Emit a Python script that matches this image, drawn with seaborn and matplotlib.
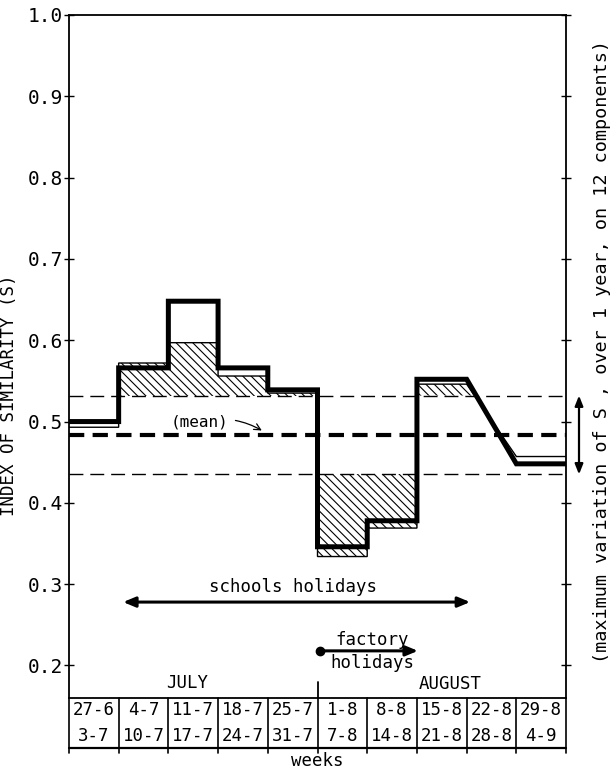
import numpy as np
import pandas as pd
import matplotlib
matplotlib.use("Agg")
import matplotlib.pyplot as plt
import matplotlib.transforms as mtransforms
import seaborn as sns

# ---------------- data ----------------
weeks_start = ["27-6", "4-7", "11-7", "18-7", "25-7", "1-8", "8-8", "15-8", "22-8", "29-8"]
weeks_end = ["3-7", "10-7", "17-7", "24-7", "31-7", "7-8", "14-8", "21-8", "28-8", "4-9"]
s_thick = [0.500, 0.566, 0.648, 0.566, 0.539, 0.346, 0.378, 0.552, None, 0.448]
s_thin = [0.493, 0.572, 0.597, 0.556, 0.535, 0.334, 0.369, 0.546, None, 0.457]
s_mean = 0.484
band_hi = 0.532
band_lo = 0.435
months = ["JULY", "AUGUST"]
school_hol = (1.09, 8.07)
factory_hol = (5.05, 7.02)
yticks = [0.2, 0.3, 0.4, 0.5, 0.6, 0.7, 0.8, 0.9, 1.0]

# ---------------- style ----------------
sns.set_theme(style="ticks")
plt.rcParams["font.family"] = ["DejaVu Sans Mono", "DejaVu Sans"]
plt.rcParams["hatch.linewidth"] = 0.8
plt.rcParams["lines.scale_dashes"] = False
plt.rcParams["axes.edgecolor"] = "black"
plt.rcParams["axes.labelcolor"] = "black"
plt.rcParams["text.color"] = "black"
plt.rcParams["xtick.color"] = "black"
plt.rcParams["ytick.color"] = "black"
FS = 12.5


def step_path(vals):
    xs, ys = [], []
    for i, v in enumerate(vals):
        if v is None:
            continue
        xs += [i, i + 1]
        ys += [v, v]
    return np.array(xs, dtype=float), np.array(ys, dtype=float)


x_thick, y_thick = step_path(s_thick)
x_thin, y_thin = step_path(s_thin)
df_thick = pd.DataFrame({"week": x_thick, "S": y_thick})
df_thin = pd.DataFrame({"week": x_thin, "S": y_thin})

fig = plt.figure(figsize=(6.1, 7.73), dpi=100)
ax = fig.add_axes([0.113, 0.097, 0.815, 0.8836])

# hatched deviations outside the band
HATCH = "\\\\\\\\"
ax.fill_between(x_thin, y_thin, band_hi, where=y_thin > band_hi, interpolate=True,
                facecolor="none", edgecolor="black", hatch=HATCH, linewidth=0, zorder=1)
ax.fill_between(x_thin, y_thin, band_lo, where=y_thin < band_lo, interpolate=True,
                facecolor="none", edgecolor="black", hatch=HATCH, linewidth=0, zorder=1)

# band and mean
ax.axhline(band_hi, color="black", lw=1.0, dashes=(10, 5), zorder=1.5)
ax.axhline(band_lo, color="black", lw=1.0, dashes=(10, 5), zorder=1.5)
ax.axhline(s_mean, color="black", lw=3.0, dashes=(11, 6), zorder=1.5)

# lines
sns.lineplot(data=df_thin, x="week", y="S", sort=False, estimator=None,
             color="black", lw=1.0, ax=ax, zorder=2)
sns.lineplot(data=df_thick, x="week", y="S", sort=False, estimator=None,
             color="black", lw=3.6, ax=ax, zorder=3)
for ln in ax.lines[-2:]:
    ln.set_solid_joinstyle("miter")
    ln.set_solid_capstyle("butt")

ax.set_xlim(0, 10)
ax.set_ylim(0.16, 1.0)
ax.set_xticks([])
ax.set_yticks(yticks)
ax.set_yticklabels([f"{t:.1f}" for t in yticks], fontsize=14)
ax.tick_params(axis="y", direction="inout", length=7, width=1.0, right=True,
               labelright=False, pad=1)
for sp in ax.spines.values():
    sp.set_visible(True)
    sp.set_linewidth(1.3)
    sp.set_color("black")

ax.set_ylabel("INDEX OF SIMILARITY (S)", fontsize=FS, color="black")
ax.yaxis.set_label_coords(-0.103, 0.444)
ax.set_xlabel("weeks", fontsize=FS, color="black")
ax.xaxis.label.set_va("center")
ax.xaxis.set_label_coords(0.5, -0.0915)

# (mean) annotation
ax.annotate("(mean)", xy=(3.88, 0.489), xytext=(2.62, 0.500), fontsize=11.5,
            ha="center", va="center",
            arrowprops=dict(arrowstyle="->", lw=0.9, color="black",
                            connectionstyle="arc3,rad=-0.2", shrinkA=3, shrinkB=0))

# schools holidays
ax.text(4.5, 0.297, "schools holidays", ha="center", va="center", fontsize=FS)
ax.annotate("", xy=(school_hol[0], 0.278), xytext=(school_hol[1], 0.278),
            arrowprops=dict(arrowstyle="<|-|>,head_length=0.6,head_width=0.25",
                            lw=2.2, color="black", shrinkA=0, shrinkB=0))

# factory holidays
ax.plot([factory_hol[0]], [0.218], "o", color="black", ms=6, zorder=4)
ax.annotate("", xy=(factory_hol[1], 0.218), xytext=(factory_hol[0], 0.218),
            arrowprops=dict(arrowstyle="-|>,head_length=0.6,head_width=0.25",
                            lw=2.2, color="black", shrinkA=0, shrinkB=0))
ax.text(6.1, 0.231, "factory", ha="center", va="center", fontsize=FS)
ax.text(6.1, 0.2025, "holidays", ha="center", va="center", fontsize=FS)

# months
ax.text(2.37, 0.178, months[0], ha="center", va="center", fontsize=FS)
ax.text(7.67, 0.177, months[1], ha="center", va="center", fontsize=FS)
ax.plot([5, 5], [0.16, 0.18], color="black", lw=1.3, clip_on=False)

# week table under the axis
trans = ax.get_xaxis_transform()
tb = -0.0732
ax.plot([0, 10], [tb, tb], color="black", lw=1.6, transform=trans, clip_on=False)
for e in range(11):
    ax.plot([e, e], [0, tb - 0.008], color="black", lw=1.2, transform=trans, clip_on=False)
for i, (a, b) in enumerate(zip(weeks_start, weeks_end)):
    ax.text(i + 0.5, -0.0176, a, transform=trans, ha="center", va="center", fontsize=FS)
    ax.text(i + 0.5, -0.0556, b, transform=trans, ha="center", va="center", fontsize=FS)

# right side: max variation arrow and label
blend = mtransforms.blended_transform_factory(ax.transAxes, ax.transData)
ax.annotate("", xy=(1.026, band_hi), xytext=(1.026, band_lo),
            xycoords=blend, textcoords=blend,
            arrowprops=dict(arrowstyle="<|-|>,head_length=0.5,head_width=0.2",
                            lw=1.6, color="black", shrinkA=0, shrinkB=0))
ax.text(1.072, 0.507, "(maximum variation of S , over 1 year, on 12 components)",
        transform=ax.transAxes, rotation=90, ha="center", va="center", fontsize=13.3)

fig.savefig("out.png", dpi=100)
